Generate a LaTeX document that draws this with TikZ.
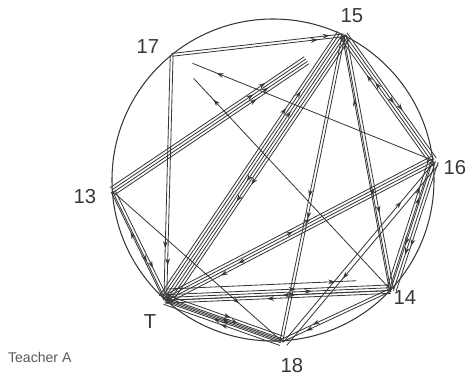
\documentclass[tikz,border=0pt]{standalone}
\usepackage{fontspec}
\setsansfont{Liberation Sans}
\usetikzlibrary{arrows.meta,calc,decorations.markings}
\definecolor{pencil}{RGB}{55,55,55}

\tikzset{
  stroke/.style={draw=pencil, line width=0.7pt},
  arrowat/.style={postaction={decorate},
    decoration={markings, mark=at position #1 with {\arrow{Stealth[length=6pt,width=4pt]}}}},
  pupil/.style={font=\sffamily\LARGE, text=pencil},
}

\begin{document}
\begin{tikzpicture}[x=0.03cm, y=0.03cm]

\useasboundingbox (0,0) rectangle (467,378);

%% Class circle and seats (angles round the centre)
\coordinate (c) at (273,198);
\draw[stroke, line width=0.9pt] (c) circle [radius=4.83cm];

\foreach \who/\ang in {15/64, 17/129, 16/7, 13/184, T/228, 18/273, 14/317}{
  \coordinate (n\who) at ($(c)+(\ang:161)$);
}

%% Seat labels
\node[pupil] (l15) at (352,362) {15};
\node[pupil] (l17) at (148,331) {17};
\node[pupil] (l16) at (455,210) {16};
\node[pupil] (l13) at (85,181) {13};
\node[pupil] (lT)  at (150,56) {T};
\node[pupil] (l18) at (292,12) {18};
\node[pupil] (l14) at (405,80) {14};

\node[font=\sffamily\large, text=black!65, anchor=west] (cap) at (4,21) {Teacher A};

%% Bundles: from / to / lines / arrow position / side shift (pt) / end fraction
\foreach \a/\b/\n/\p/\s/\e in {
  17/15/2/0.92/0/1,
  17/T/2/0.86/0/1,
  13/15/4/0.80/0/0.84,
  T/15/3/0.78/3.6/1,
  15/T/3/0.62/3.6/1,
  16/17/1/0.97/0/0.92,
  14/17/1/0.97/0/0.90,
  15/16/2/0.62/2.4/1,
  16/15/2/0.70/2.4/1,
  15/14/2/0.70/1.2/1,
  14/15/1/0.82/1.2/1,
  15/18/2/0.60/0/1,
  16/T/2/0.80/2.4/1,
  T/16/2/0.55/2.4/1,
  16/14/3/0.72/2.4/1,
  14/16/2/0.78/2.4/1,
  16/18/1/0.70/6/1,
  18/16/1/0.85/-2/1,
  T/14/3/0.65/1.8/1,
  14/T/2/0.55/1.8/1,
  T/14/1/0.96/9/0.85,
  T/18/3/0.62/1.8/1,
  18/T/3/0.58/1.8/1,
  14/18/2/0.78/0/1,
  13/T/2/0.72/1.2/1,
  T/13/1/0.70/1.2/1,
  13/18/1/0.82/0/1%
}{
  \coordinate (e) at ($(n\a)!\e!(n\b)$);
  \foreach \k in {1,...,\n}{
    \pgfmathsetmacro\off{\s+(\k-(\n+1)/2)*2.4}
    \pgfmathsetmacro\pos{\p-0.07*mod(\k,2)}
    \draw[stroke, arrowat=\pos]
      ($(n\a)!\off pt!90:(n\b)$) -- ($(e)!\off pt!-90:(n\a)$);
  }
}

\end{tikzpicture}
\end{document}
